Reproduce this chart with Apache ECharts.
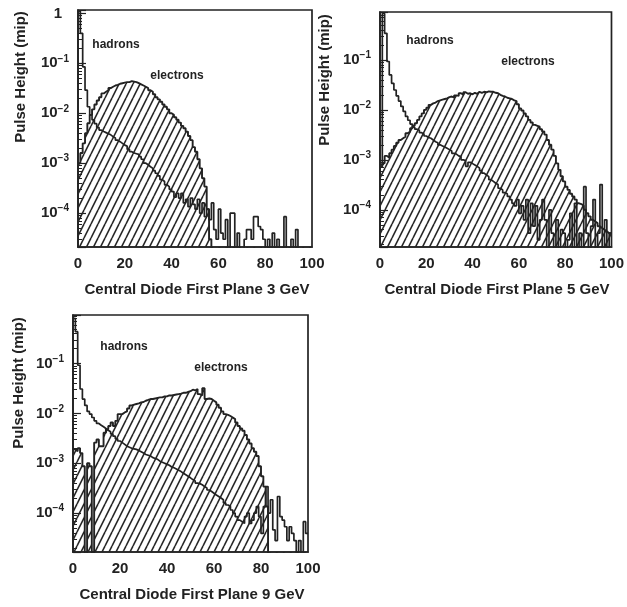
<!DOCTYPE html>
<html><head><meta charset="utf-8">
<script src="https://cdn.jsdelivr.net/npm/echarts@6/dist/echarts.min.js"></script>
<style>html,body{margin:0;padding:0;background:#fff}#c{width:627px;height:607px}</style>
</head><body><div id="c"></div>
<script>
// ---------- data (pulse height per 1-unit bin, x = 0..100) ----------
const binWidth = 1;
const xTicks = [0, 20, 40, 60, 80, 100];
const panelTitles = ['Central Diode First Plane 3 GeV', 'Central Diode First Plane 5 GeV', 'Central Diode First Plane 9 GeV'];
const yTitle = 'Pulse Height (mip)';
const seriesNames = ['hadrons', 'electrons'];

const elec3 = [1.0e-3,1.6e-3,2.5e-3,4.0e-3,6.3e-3,9.3e-3,1.2e-2,1.5e-2,1.8e-2,2.1e-2,
 2.5e-2,2.7e-2,2.9e-2,3.2e-2,3.4e-2,3.6e-2,3.7e-2,3.9e-2,4.0e-2,4.1e-2,
 4.2e-2,4.2e-2,4.4e-2,4.3e-2,4.2e-2,4.0e-2,3.8e-2,3.6e-2,3.4e-2,3.2e-2,
 2.9e-2,2.7e-2,2.4e-2,2.1e-2,1.9e-2,1.7e-2,1.5e-2,1.35e-2,1.2e-2,1.0e-2,
 9.3e-3,8.3e-3,7.4e-3,6.5e-3,5.6e-3,5.0e-3,4.3e-3,3.5e-3,2.9e-3,2.1e-3,
 1.7e-3,1.2e-3,7.9e-4,5.0e-4,3.4e-4,1.2e-4,3.0e-5,0,0,0,
 0,0,0,0,0,0,0,0,0,0, 0,0,0,0,0,0,0,0,0,0,
 0,0,0,0,0,0,0,0,0,0, 0,0,0,0,0,0,0,0,0,0];
const had3 = [1.1,0.4,8.5e-2,2.9e-2,1.35e-2,9.3e-3,7.4e-3,6.2e-3,5.2e-3,4.6e-3,
 4.3e-3,4.1e-3,3.9e-3,3.7e-3,3.4e-3,3.2e-3,2.9e-3,2.7e-3,2.5e-3,2.3e-3,
 2.2e-3,1.9e-3,1.7e-3,1.6e-3,1.55e-3,1.5e-3,1.35e-3,1.2e-3,1.0e-3,9.3e-4,
 8.5e-4,7.9e-4,7.1e-4,6.3e-4,5.6e-4,4.7e-4,4.3e-4,3.7e-4,3.4e-4,3.0e-4,
 2.7e-4,2.1e-4,2.5e-4,2.0e-4,2.5e-4,1.6e-4,1.9e-4,1.35e-4,2.0e-4,1.5e-4,
 1.2e-4,1.9e-4,1.0e-4,1.6e-4,8.5e-5,1.2e-4,7.4e-5,1.6e-4,4.7e-5,3.0e-5,
 1.2e-4,4.0e-5,3.0e-5,7.4e-5,0,1.0e-4,1.0e-4,0,4.0e-5,0,
 0,3.0e-5,4.7e-5,4.7e-5,3.0e-5,8.5e-5,8.5e-5,5.4e-5,4.7e-5,3.0e-5,
 0,3.0e-5,0,4.0e-5,0,3.0e-5,0,0,8.5e-5,0,
 0,3.0e-5,0,4.7e-5,0,0,0,0,0,0];

const elec5 = [7.4e-4,8.5e-4,1.2e-3,1.1e-3,1.35e-3,1.6e-3,1.9e-3,2.2e-3,2.5e-3,2.7e-3,
 2.9e-3,3.4e-3,3.7e-3,4.3e-3,4.8e-3,5.4e-3,6.3e-3,7.4e-3,8.5e-3,1.0e-2,
 1.1e-2,1.26e-2,1.35e-2,1.4e-2,1.5e-2,1.55e-2,1.6e-2,1.65e-2,1.7e-2,1.8e-2,
 1.85e-2,1.75e-2,1.95e-2,1.9e-2,2.15e-2,2.0e-2,2.25e-2,2.1e-2,2.15e-2,2.05e-2,
 2.2e-2,2.1e-2,2.3e-2,2.2e-2,2.3e-2,2.25e-2,2.35e-2,2.3e-2,2.3e-2,2.2e-2,
 2.15e-2,2.0e-2,1.9e-2,1.85e-2,1.75e-2,1.7e-2,1.65e-2,1.55e-2,1.5e-2,1.3e-2,
 1.07e-2,9.7e-3,8.5e-3,7.4e-3,6.3e-3,5.6e-3,5.0e-3,4.8e-3,4.6e-3,4.1e-3,
 3.7e-3,3.2e-3,2.5e-3,2.0e-3,1.6e-3,1.2e-3,8.5e-4,6.3e-4,4.7e-4,3.7e-4,
 2.9e-4,2.5e-4,2.1e-4,1.85e-4,1.6e-4,1.35e-4,1.3e-4,1.2e-4,1.0e-4,8.5e-5,
 7.4e-5,6.3e-5,5.8e-5,5.4e-5,4.7e-5,4.3e-5,4.0e-5,3.7e-5,3.4e-5,3.4e-5];
const had5 = [7.4e-4,0.85,0.34,9.3e-2,5.0e-2,3.4e-2,2.5e-2,1.9e-2,1.5e-2,1.17e-2,
 9.3e-3,7.4e-3,6.2e-3,5.2e-3,4.5e-3,4.1e-3,3.9e-3,3.5e-3,3.3e-3,3.0e-3,
 2.8e-3,2.7e-3,2.5e-3,2.3e-3,2.2e-3,2.0e-3,1.9e-3,1.8e-3,1.7e-3,1.6e-3,
 1.5e-3,1.35e-3,1.3e-3,1.2e-3,1.15e-3,1.0e-3,9.7e-4,7.4e-4,8.9e-4,8.4e-4,
 7.9e-4,7.4e-4,6.8e-4,6.1e-4,5.4e-4,5.0e-4,4.6e-4,4.0e-4,3.7e-4,3.4e-4,
 3.2e-4,2.7e-4,2.5e-4,2.2e-4,2.1e-4,1.85e-4,1.6e-4,1.35e-4,1.2e-4,1.6e-4,
 8.5e-5,1.2e-4,6.3e-5,1.6e-4,3.4e-5,1.35e-4,4.7e-5,1.2e-4,2.5e-5,6.3e-5,
 1.6e-4,6.3e-5,0,1.0e-4,3.4e-5,0,6.3e-5,0,4.0e-5,3.4e-5,
 0,2.5e-5,8.5e-5,0,1.35e-4,0,3.4e-5,0,2.9e-4,3.4e-5,
 0,4.7e-5,1.6e-4,0,3.4e-5,3.2e-4,0,6.3e-5,0,3.4e-5];

const elec9 = [1.9e-3,1.75e-3,2.0e-3,1.6e-3,8.7e-4,0,1.0e-3,8.7e-4,0,2.6e-3,
 3.0e-3,2.2e-3,2.2e-3,4.1e-3,4.8e-3,5.6e-3,6.6e-3,5.6e-3,7.1e-3,9.7e-3,
 9.7e-3,1.05e-2,1.1e-2,1.26e-2,1.45e-2,1.5e-2,1.55e-2,1.6e-2,1.67e-2,1.7e-2,
 1.8e-2,1.87e-2,1.95e-2,1.95e-2,2.0e-2,2.05e-2,2.1e-2,2.1e-2,2.2e-2,2.2e-2,
 2.3e-2,2.3e-2,2.35e-2,2.4e-2,2.45e-2,2.5e-2,2.6e-2,2.6e-2,2.7e-2,2.8e-2,
 3.0e-2,2.9e-2,3.1e-2,2.45e-2,2.3e-2,3.2e-2,1.95e-2,2.0e-2,1.95e-2,1.8e-2,
 1.67e-2,1.5e-2,1.3e-2,1.1e-2,9.7e-3,9.4e-3,8.9e-3,8.3e-3,7.7e-3,6.6e-3,
 5.6e-3,5.0e-3,4.5e-3,3.7e-3,3.0e-3,2.5e-3,2.0e-3,1.7e-3,1.4e-3,8.7e-4,
 5.5e-4,3.4e-4,1.35e-4,0,0,0,0,0,0,0,
 0,0,0,0,0,0,0,0,0,0];
const had9 = [0.81,0.44,9.3e-2,3.1e-2,1.95e-2,1.45e-2,1.1e-2,9.7e-3,8.3e-3,7.1e-3,
 6.3e-3,5.8e-3,5.4e-3,5.0e-3,4.6e-3,4.3e-3,3.9e-3,3.5e-3,3.1e-3,2.8e-3,
 2.6e-3,2.4e-3,2.2e-3,2.1e-3,2.0e-3,1.95e-3,1.9e-3,1.8e-3,1.7e-3,1.6e-3,
 1.5e-3,1.45e-3,1.4e-3,1.3e-3,1.25e-3,1.2e-3,1.1e-3,1.05e-3,1.0e-3,9.5e-4,
 9.1e-4,8.4e-4,8.1e-4,7.7e-4,7.2e-4,6.8e-4,6.3e-4,5.9e-4,5.5e-4,5.1e-4,
 4.7e-4,4.4e-4,4.0e-4,3.9e-4,3.7e-4,3.4e-4,3.2e-4,2.9e-4,2.7e-4,2.5e-4,
 2.3e-4,2.15e-4,2.0e-4,1.85e-4,1.6e-4,1.45e-4,1.35e-4,1.15e-4,1.0e-4,8.5e-5,
 7.2e-5,6.7e-5,6.2e-5,8.5e-5,1.0e-4,6.2e-5,7.2e-5,1.0e-4,1.35e-4,8.5e-5,
 3.9e-5,1.35e-4,3.4e-4,1.0e-4,1.85e-4,4.6e-5,2.8e-5,2.15e-4,8.5e-5,7.2e-5,
 5.3e-5,2.8e-5,5.3e-5,3.9e-5,2.8e-5,0,2.8e-5,0,6.7e-5,3.9e-5];

const yRanges = [[2.1e-5, 1.17], [1.8e-5, 0.91], [1.65e-5, 0.95]];

// ---------- rendering ----------
const FONT = '"Liberation Sans", Arial, sans-serif';
const INK = '#222';
const FLOOR = 1e-9; // empty bin -> drawn below axis floor

function hatchCanvas() {
  const c = document.createElement('canvas');
  const w = 7, h = 14;
  c.width = w; c.height = h;
  const g = c.getContext('2d');
  g.strokeStyle = '#262626'; g.lineWidth = 1.6;
  for (let k = -1; k <= 1; k++) { g.beginPath(); g.moveTo(k * w, h); g.lineTo(k * w + w, 0); g.stroke(); }
  return c;
}
const hatch = { image: hatchCanvas(), repeat: 'repeat' };

function steps(vals) {
  const d = vals.map((v, i) => [i * binWidth, v > 0 ? v : FLOOR]);
  const last = vals[vals.length - 1];
  d.push([vals.length * binWidth, last > 0 ? last : FLOOR]);
  return d;
}

const grids = [
  { left: 78, top: 10, width: 234, height: 237 },
  { left: 380, top: 12, width: 234, height: 235 },
  { left: 73, top: 315, width: 235, height: 237 }
];
const panels = [[elec3, had3], [elec5, had5], [elec9, had9]];

const option = {
  animation: false,
  backgroundColor: '#fff',
  grid: grids.map(g => Object.assign({ show: true, borderColor: INK, borderWidth: 1.7, backgroundColor: 'transparent' }, g)),
  xAxis: grids.map((g, i) => ({
    type: 'value', gridIndex: i, min: xTicks[0], max: xTicks[xTicks.length - 1], interval: xTicks[1] - xTicks[0],
    axisLine: { show: true, lineStyle: { color: INK, width: 1.7 } },
    axisTick: { show: false }, splitLine: { show: false },
    axisLabel: { fontFamily: FONT, fontWeight: 'bold', fontSize: 15, color: INK, margin: 9 }
  })),
  yAxis: grids.map((g, i) => ({
    type: 'log', logBase: 10, gridIndex: i, min: yRanges[i][0], max: yRanges[i][1],
    axisLine: { show: true, lineStyle: { color: INK, width: 1.7 } },
    axisTick: { show: true, inside: true, length: 8, lineStyle: { color: INK, width: 1.2 } },
    minorTick: { show: true, splitNumber: 9, length: 4, lineStyle: { color: INK, width: 1 } },
    splitLine: { show: false }, minorSplitLine: { show: false },
    axisLabel: {
      showMinLabel: false, showMaxLabel: false, margin: 9,
      formatter: v => {
        const e = Math.round(Math.log10(v));
        if (e === 0) return '{o|1}';
        return '{b|10}{s|' + (e < 0 ? '\u2212' : '') + Math.abs(e) + '}';
      },
      rich: {
        b: { fontFamily: FONT, fontWeight: 'bold', fontSize: 15, color: INK },
        s: { fontFamily: FONT, fontWeight: 'bold', fontSize: 10, color: INK, padding: [0, 0, 9, 0] },
        o: { fontFamily: FONT, fontWeight: 'bold', fontSize: 15, color: INK, padding: [0, 7, 0, 0] }
      }
    }
  })),
  series: [],
  graphic: []
};

panels.forEach(([el, hd], i) => {
  option.series.push({
    type: 'line', name: seriesNames[1], xAxisIndex: i, yAxisIndex: i, step: 'end', data: steps(el),
    showSymbol: false, symbol: 'none', clip: true, z: 2,
    lineStyle: { color: INK, width: 1.9 },
    areaStyle: { color: hatch, origin: 'start', opacity: 1 }
  });
  option.series.push({
    type: 'line', name: seriesNames[0], xAxisIndex: i, yAxisIndex: i, step: 'end', data: steps(hd),
    showSymbol: false, symbol: 'none', clip: true, z: 3,
    lineStyle: { color: INK, width: 1.7 }
  });
});

const txt = (text, x, y, size, rot) => ({
  type: 'text', x, y, rotation: rot || 0, silent: true,
  style: { text, fill: INK, font: 'bold ' + size + 'px ' + FONT, align: 'center', verticalAlign: 'middle', textAlign: 'center', textVerticalAlign: 'middle' }
});
option.graphic = [
  txt(yTitle, 21, 77, 15, Math.PI / 2),
  txt(yTitle, 325, 80, 15, Math.PI / 2),
  txt(yTitle, 19, 383, 15, Math.PI / 2),
  txt(panelTitles[0], 197, 290, 15),
  txt(panelTitles[1], 497, 290, 15),
  txt(panelTitles[2], 192, 595, 15),
  txt(seriesNames[0], 116, 45, 12),
  txt(seriesNames[1], 177, 76, 12),
  txt(seriesNames[0], 430, 41, 12),
  txt(seriesNames[1], 528, 62, 12),
  txt(seriesNames[0], 124, 347, 12),
  txt(seriesNames[1], 221, 368, 12)
];

const chart = echarts.init(document.getElementById('c'), null, { renderer: 'canvas' });
chart.setOption(option);
</script>
</body></html>
